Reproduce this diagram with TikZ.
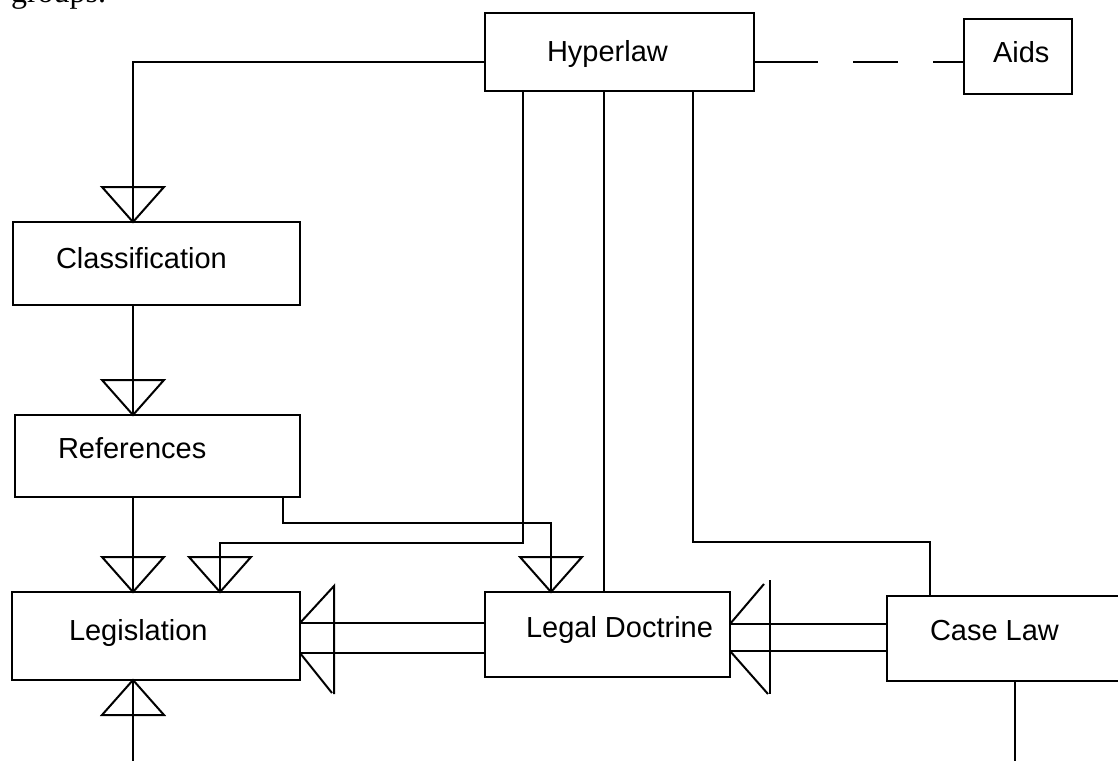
\documentclass[tikz,border=0pt]{standalone}
\usepackage{fontspec}
\setmainfont{Liberation Sans}
\newfontfamily\serifbody{Liberation Serif}
\usetikzlibrary{calc}
\begin{document}
\begin{tikzpicture}[x=1pt,y=-1pt,line width=2pt,
  box/.style={draw,black,line width=2pt,inner sep=0pt,outer sep=0pt},
  lbl/.style={anchor=base west,inner sep=0pt,font=\fontsize{29}{34}\selectfont},
  inh/.pic={\draw[line width=2pt] (0,0) -- (-31,-35) -- (31,-35) -- cycle;}]
\clip (0,0) rectangle (1118,760);
\fill[white] (0,0) rectangle (1118,760);
% partially visible text at the top
\node[anchor=base west,inner sep=0pt,font=\serifbody\fontsize{32}{36}\selectfont] (grp) at (10,3) {groups.};
% boxes
\node[box,minimum width=269,minimum height=78] (hyper) at (619.5,52) {};
\node[box,minimum width=108,minimum height=75] (aids) at (1018,56.5) {};
\node[box,minimum width=287,minimum height=83] (class) at (156.5,263.5) {};
\node[box,minimum width=285,minimum height=82] (refs) at (157.5,456) {};
\node[box,minimum width=288,minimum height=88] (legis) at (156,636) {};
\node[box,minimum width=245,minimum height=85] (doct) at (607.5,634.5) {};
\node[box,minimum width=243,minimum height=85] (case) at (1008.5,638.5) {};
% labels
\node[lbl] (thyper) at (546,62) {Hyperlaw};
\node[lbl] (taids) at (992,63) {Aids};
\node[lbl] (tclass) at (55,268) {Classification};
\node[lbl] (trefs) at (57,458) {References};
\node[lbl] (tlegis) at (68,640) {Legislation};
\node[lbl] (tdoct) at (525,637) {Legal Doctrine};
\node[lbl] (tcase) at (929,640) {Case Law};
% column coordinates
\coordinate (xl) at (133,0);
\coordinate (x2) at (220,0);
\coordinate (xr) at (283,0);
\coordinate (xh1) at (523,0);
\coordinate (xd) at (551,0);
\coordinate (xh2) at (604,0);
\coordinate (xh3) at (693,0);
\coordinate (xc) at (930,0);
\coordinate (xcb) at (1015,0);
\coordinate (yA) at (0,543);
\coordinate (yB) at (0,523);
\coordinate (yC) at (0,542);
\coordinate (ybot) at (0,770);
% Hyperlaw -> Classification
\draw ($(hyper.west)+(0,10)$) -| (xl |- class.north);
\pic at (xl |- class.north) {inh};
% Classification -> References
\draw (xl |- class.south) -- (xl |- refs.north);
\pic at (xl |- refs.north) {inh};
% References -> Legislation
\draw (xl |- refs.south) -- (xl |- legis.north);
\pic at (xl |- legis.north) {inh};
% Hyperlaw -> Legislation
\draw (xh1 |- hyper.south) -- (xh1 |- yA) -| (x2 |- legis.north);
\pic at (x2 |- legis.north) {inh};
% References -> Legal Doctrine
\draw (xr |- refs.south) -- (xr |- yB) -| (xd |- doct.north);
\pic at (xd |- doct.north) {inh};
% Hyperlaw -- Legal Doctrine
\draw (xh2 |- hyper.south) -- (xh2 |- doct.north);
% Hyperlaw -- Case Law
\draw (xh3 |- hyper.south) -- (xh3 |- yC) -| (xc |- case.north);
% Hyperlaw - - Aids
\draw[dash pattern=on 64pt off 35pt on 45pt off 35pt on 60pt off 0pt] ($(hyper.east)+(0,10)$) -- ($(aids.west)+(0,5.5)$);
% Legal Doctrine -> Legislation (double line)
\coordinate (d1) at ($(doct.west)+(0,-11.5)$);
\coordinate (d2) at ($(doct.west)+(0,18.5)$);
\draw (d1) -- (legis.east |- d1);
\draw (d2) -- (legis.east |- d2);
\draw (legis.east |- d1) -- ++(34,-37) -- ++(0,108);
\draw (legis.east |- d2) -- ++(32,40);
% Case Law -> Legal Doctrine (double line)
\coordinate (c1) at ($(case.west)+(0,-14.5)$);
\coordinate (c2) at ($(case.west)+(0,12.5)$);
\draw (c1) -- (doct.east |- c1);
\draw (c2) -- (doct.east |- c2);
\draw (doct.east |- c1) -- ++(34,-40);
\draw ($(doct.east |- c1)+(40,-44)$) -- ++(0,114);
\draw (doct.east |- c2) -- ++(38,43);
% Legislation bottom
\draw (xl |- legis.south) -- (xl |- ybot);
\pic[rotate=180] at (xl |- legis.south) {inh};
% Case Law bottom
\draw (xcb |- case.south) -- (xcb |- ybot);
\end{tikzpicture}
\end{document}
